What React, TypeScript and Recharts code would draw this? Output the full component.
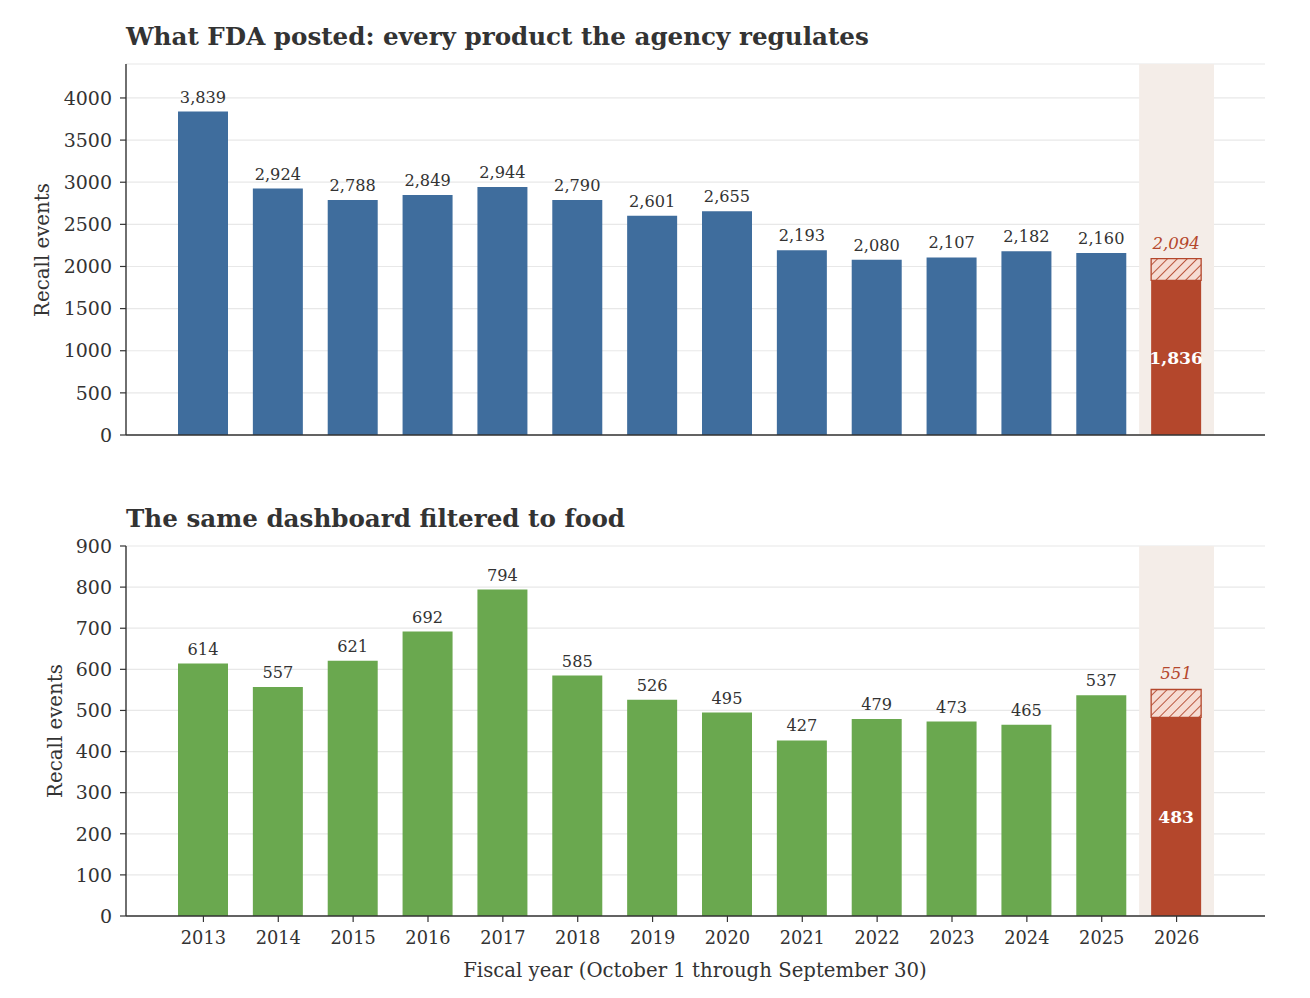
import { BarChart, Bar, XAxis, YAxis, CartesianGrid, ReferenceArea, Cell, LabelList } from "recharts";

const years = ["2013", "2014", "2015", "2016", "2017", "2018", "2019", "2020", "2021", "2022", "2023", "2024", "2025", "2026"];
const allRecalls = [3839, 2924, 2788, 2849, 2944, 2790, 2601, 2655, 2193, 2080, 2107, 2182, 2160, 1836];
const allProjected = 2094;
const foodRecalls = [614, 557, 621, 692, 794, 585, 526, 495, 427, 479, 473, 465, 537, 483];
const foodProjected = 551;
const allTicks = [0, 500, 1000, 1500, 2000, 2500, 3000, 3500, 4000];
const foodTicks = [0, 100, 200, 300, 400, 500, 600, 700, 800, 900];

const FONT = "'DejaVu Serif', serif";
const BLUE = "#3f6d9d";
const GREEN = "#6aa84f";
const RED = "#b4472c";
const BAND = "#f4ede8";
const INK = "#333333";

const fmt = (v: number) => v.toLocaleString("en-US");

function buildRows(values: number[], projected: number) {
  const last = values.length - 1;
  return values.map((v, i) => ({
    year: years[i],
    value: v,
    extra: i === last ? projected - v : null,
    projected: i === last ? projected : null,
    above: i === last ? null : v,
    inside: i === last ? v : null,
  }));
}

const allRows = buildRows(allRecalls, allProjected);
const foodRows = buildRows(foodRecalls, foodProjected);

const aboveLabel = (p: any) => {
  if (p.value == null) return null;
  return (
    <text x={p.x + p.width / 2} y={p.y - 9} textAnchor="middle" fontSize={16.2} fill={INK} fontFamily={FONT}>
      {fmt(p.value)}
    </text>
  );
};

const insideLabel = (p: any) => {
  if (p.value == null) return null;
  return (
    <text x={p.x + p.width / 2} y={p.y + p.height / 2} textAnchor="middle" dominantBaseline="central" fontSize={17.2} fontWeight="bold" fill="#ffffff" fontFamily={FONT}>
      {fmt(p.value)}
    </text>
  );
};

const projectedLabel = (p: any) => {
  if (p.value == null) return null;
  return (
    <text x={p.x + p.width / 2} y={p.y - 10} textAnchor="middle" fontSize={16.6} fontStyle="italic" fill={RED} fontFamily={FONT}>
      {fmt(p.value)}
    </text>
  );
};

function Panel({ rows, ticks, domainMax, color, showYears, height, marginTop, marginBottom, xHeight, id }: any) {
  const last = rows.length - 1;
  return (
    <BarChart
      width={1310}
      height={height}
      data={rows}
      margin={{ top: marginTop, right: 45, bottom: marginBottom, left: 0 }}
      barCategoryGap={0}
    >
      <defs>
        <pattern id={id} patternUnits="userSpaceOnUse" width={7} height={7} patternTransform="rotate(45)">
          <rect width={7} height={7} fill="#f6dcd3" />
          <line x1={0} y1={0} x2={0} y2={7} stroke={RED} strokeWidth={1.8} />
        </pattern>
      </defs>
      <CartesianGrid vertical={false} stroke="#e8e8e8" strokeWidth={1.2} />
      <ReferenceArea x1="2026" x2="2026" fill={BAND} fillOpacity={1} stroke="none" ifOverflow="visible" />
      <XAxis
        dataKey="year"
        type="category"
        padding={{ left: 40, right: 51 }}
        height={xHeight}
        stroke={INK}
        axisLine={{ stroke: INK, strokeWidth: 1.4 }}
        tickLine={{ stroke: INK, strokeWidth: 1.2 }}
        tickSize={6}
        tickMargin={9}
        tick={showYears ? { fontSize: 17.8, fill: INK, fontFamily: FONT } : false}
        interval={0}
      />
      <YAxis
        width={126}
        domain={[0, domainMax]}
        ticks={ticks}
        allowDataOverflow
        stroke={INK}
        axisLine={{ stroke: INK, strokeWidth: 1.4 }}
        tickLine={{ stroke: INK, strokeWidth: 1.2 }}
        tickSize={6}
        tickMargin={8}
        tick={{ fontSize: 19, fill: INK, fontFamily: FONT }}
      />
      <Bar dataKey="value" stackId="s" barSize={50} isAnimationActive={false}>
        {rows.map((r: any, i: number) => (
          <Cell key={r.year} fill={i === last ? RED : color} />
        ))}
        <LabelList dataKey="above" content={aboveLabel} />
        <LabelList dataKey="inside" content={insideLabel} />
      </Bar>
      <Bar dataKey="extra" stackId="s" barSize={50} fill={`url(#${id})`} stroke={RED} strokeWidth={1.3} isAnimationActive={false}>
        <LabelList dataKey="projected" content={projectedLabel} />
      </Bar>
    </BarChart>
  );
}

export default function App() {
  return (
    <div style={{ position: "absolute", left: 0, top: 0, width: 1310, height: 998, background: "#ffffff", fontFamily: FONT }}>
      <div style={{ position: "absolute", left: 0, top: 0 }}>
        <Panel id="hatchAll" rows={allRows} ticks={allTicks} domainMax={4403} color={BLUE} showYears={false} height={470} marginTop={64} marginBottom={10} xHeight={25} />
      </div>
      <div style={{ position: "absolute", left: 0, top: 480 }}>
        <Panel id="hatchFood" rows={foodRows} ticks={foodTicks} domainMax={900} color={GREEN} showYears height={518} marginTop={66} marginBottom={42} xHeight={40} />
      </div>
      <svg width={1310} height={998} style={{ position: "absolute", left: 0, top: 0, pointerEvents: "none" }}>
        <text x={126} y={45} fontSize={24.6} fontWeight="bold" fill={INK} fontFamily={FONT}>
          What FDA posted: every product the agency regulates
        </text>
        <text x={126} y={527} fontSize={24.6} fontWeight="bold" fill={INK} fontFamily={FONT}>
          The same dashboard filtered to food
        </text>
        <text x={42} y={250} fontSize={19.8} fill={INK} fontFamily={FONT} textAnchor="middle" dominantBaseline="central" transform="rotate(-90 42 250)">
          Recall events
        </text>
        <text x={55} y={731} fontSize={19.8} fill={INK} fontFamily={FONT} textAnchor="middle" dominantBaseline="central" transform="rotate(-90 55 731)">
          Recall events
        </text>
        <text x={695} y={977} fontSize={19.7} fill={INK} fontFamily={FONT} textAnchor="middle">
          Fiscal year (October 1 through September 30)
        </text>
      </svg>
    </div>
  );
}
